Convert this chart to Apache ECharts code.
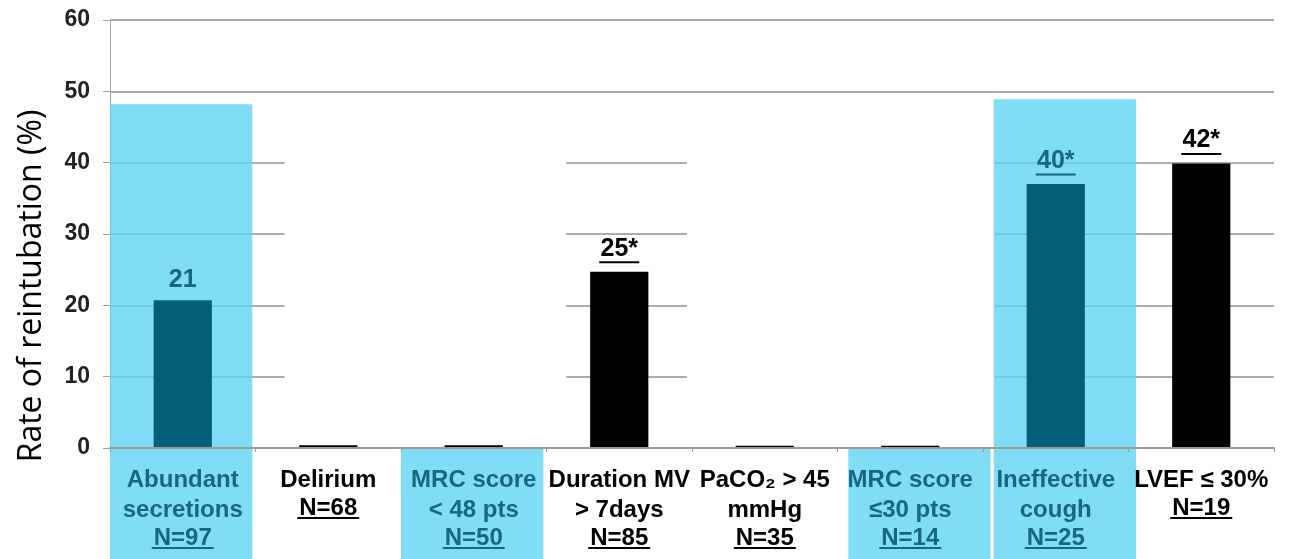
<!DOCTYPE html>
<html><head><meta charset="utf-8">
<script src="https://cdn.jsdelivr.net/npm/echarts@6/dist/echarts.min.js"></script>
<style>html,body{margin:0;padding:0;background:#fff}#c{width:1290px;height:559px}</style>
</head><body><div id="c"></div>
<script>
// ---- data ----
const categories = ['Abundant secretions','Delirium','MRC score < 48 pts','Duration MV > 7days','PaCO2 > 45 mmHg','MRC score ≤30 pts','Ineffective cough','LVEF ≤ 30%'];
const labelLines = [['Abundant','secretions'],['Delirium'],['MRC score','< 48 pts'],['Duration MV','> 7days'],['PaCO₂ > 45','mmHg'],['MRC score','≤30 pts'],['Ineffective','cough'],['LVEF ≤ 30%']];
const sampleSizes = [97,68,50,85,35,14,25,19];
const rates = [20.7,0.4,0.4,24.7,0.3,0.3,37.0,39.9];
const valueLabels = ['21','','','25*','','','40*','42*'];
const yTicks = [0,10,20,30,40,50,60];
const fullHighlights = ['Abundant secretions','Ineffective cough'];
const labelHighlights = ['MRC score < 48 pts','MRC score ≤30 pts'];

// ---- styles ----
const TEAL_BAR = '#035f78', TEAL_TXT = '#17677e', BLUE = 'rgba(96,212,244,0.8)';
const FONT = '"Liberation Sans", Arial, sans-serif';
const isTeal = i => fullHighlights.includes(categories[i]) || labelHighlights.includes(categories[i]);
const isTealBar = i => fullHighlights.includes(categories[i]);

function richSet(color){
  return {
    l: {fontFamily: FONT, fontWeight: 'bold', fontSize: 24, color, lineHeight: 30},
    s: {height: 5, lineHeight: 5},
    n: {fontFamily: FONT, fontWeight: 'bold', fontSize: 24, color, lineHeight: 16},
    u: {width: 62, height: 2, lineHeight: 4, backgroundColor: color}
  };
}
const rb = richSet('#000'), rt = richSet(TEAL_TXT);
const axisRich = {b: rb.l, sb: rb.s, nb: rb.n, ub: rb.u, t: rt.l, st: rt.s, nt: rt.n, ut: rt.u};

const chart = echarts.init(document.getElementById('c'));

// highlight overlays expressed relative to category bands
const overlays = [];
categories.forEach((c, i) => {
  if (fullHighlights.includes(c)) overlays.push({i, kind: 'full'});
  if (labelHighlights.includes(c)) overlays.push({i, kind: 'label'});
});

function renderOverlay(params, api){
  const ov = overlays[params.dataIndex];
  const band = api.size([1, 0])[0];
  const cx = api.coord([ov.i, 0])[0];
  const y0 = api.coord([ov.i, 0])[1];
  const H = api.getHeight();
  let shift = ov.i === 0 ? -0.5 : -0.426;
  if (ov.i === 2) shift = -0.5;
  const x = cx + shift * band;
  const w = 0.978 * band;
  let top;
  if (ov.kind === 'full') top = api.coord([ov.i, ov.i === 0 ? 48.2 : 48.9])[1];
  else top = y0;
  return {type: 'rect', shape: {x, y: top, width: w, height: H - top}, style: {fill: BLUE}};
}

// white patches of the source slide that hide part of the gridlines
const masks = [[1, -0.30, 3, -0.364], [4, -0.536, 6, -0.42]];
function renderMask(params, api){
  const m = masks[params.dataIndex];
  const band = api.size([1, 0])[0];
  const x1 = api.coord([m[0], 0])[0] + m[1] * band;
  const x2 = api.coord([m[2], 0])[0] + m[3] * band;
  const yt = api.coord([0, 48.4])[1];
  const yb = api.coord([0, 0.6])[1];
  return {type: 'rect', shape: {x: x1, y: yt, width: x2 - x1, height: yb - yt}, style: {fill: '#fff'}};
}

const option = {
  animation: false,
  backgroundColor: '#fff',
  grid: {left: 110, right: 16, top: 20, bottom: 111},
  xAxis: {
    type: 'category', data: categories, z: 5,
    axisLine: {lineStyle: {color: '#9a9a9a', width: 2}},
    axisTick: {show: true, length: 4, lineStyle: {color: '#9a9a9a'}},
    axisLabel: {
      interval: 0, margin: 17, rich: axisRich,
      formatter: (v, i) => {
        const k = isTeal(i) ? 't' : 'b';
        return labelLines[i].map(l => `{${k}|${l}}`).join('\n') + `\n{s${k}|}\n{n${k}|N=${sampleSizes[i]}}\n{u${k}|}`;
      }
    }
  },
  yAxis: {
    type: 'value', min: yTicks[0], max: yTicks[yTicks.length - 1], interval: 10,
    name: 'Rate of reintubation (%)', nameLocation: 'middle', nameGap: 62, nameRotate: 90,
    nameTextStyle: {fontFamily: '"Open Sans", "Noto Sans", sans-serif', fontSize: 32, color: '#000', padding: [0, 104, 0, 0]},
    axisLine: {show: true, lineStyle: {color: '#a0a0a0', width: 1}},
    axisTick: {show: true, length: 7, lineStyle: {color: '#a0a0a0'}},
    axisLabel: {fontFamily: FONT, fontWeight: 'bold', fontSize: 23, color: '#222', margin: 20},
    splitLine: {lineStyle: {color: '#acacac', width: 2}}
  },
  series: [
    {type: 'custom', z: 1, clip: false, silent: true, renderItem: renderMask, data: masks.map((m, k) => [k, 0])},
    {type: 'custom', z: 1, clip: false, silent: true, renderItem: renderOverlay, data: overlays.map(o => [o.i, 0])},
    {
      type: 'bar', z: 2, barWidth: '40%',
      data: rates.map((v, i) => ({
        value: v,
        itemStyle: {color: isTealBar(i) ? TEAL_BAR : '#000'},
        label: {
          show: valueLabels[i] !== '',
          position: 'top', distance: 8,
          formatter: () => valueLabels[i].includes('*') ? `{v|${valueLabels[i]}}\n{u|}` : `{v|${valueLabels[i]}}`,
          rich: {
            v: {fontFamily: FONT, fontWeight: 'bold', fontSize: 25, lineHeight: 24, color: isTealBar(i) ? TEAL_TXT : '#000'},
            u: {width: 40, height: 2, lineHeight: 3, backgroundColor: isTealBar(i) ? TEAL_TXT : '#000'}
          }
        }
      }))
    }
  ]
};
chart.setOption(option);
</script></body></html>
